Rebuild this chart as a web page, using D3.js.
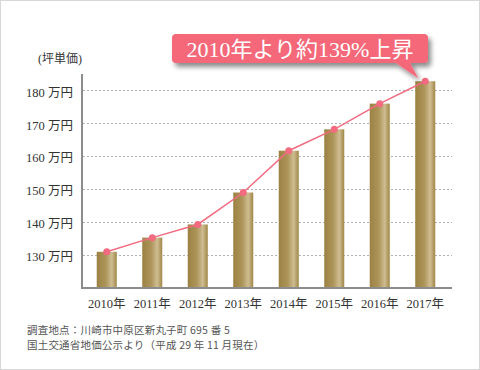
<!DOCTYPE html>
<html>
<head>
<meta charset="utf-8">
<script src="https://cdn.jsdelivr.net/npm/d3@7"></script>
<style>
  html, body { margin: 0; padding: 0; background: #fff; }
  svg { display: block; }
</style>
</head>
<body>
<script>
// データ（画像から読み取った坪単価）
const years = ["2010年", "2011年", "2012年", "2013年", "2014年", "2015年", "2016年", "2017年"];
const prices = [131, 135.3, 139.3, 149, 161.7, 168.2, 176, 182.8];
const yTicks = [130, 140, 150, 160, 170, 180];
const yUnit = "万円";
const yTitle = "(坪単価)";
const calloutText = "2010年より約139%上昇";
const notes = [
  "調査地点：川崎市中原区新丸子町 695 番 5",
  "国土交通省地価公示より（平成 29 年 11 月現在）"
];

const width = 480;
const height = 370;
const serif = "'Liberation Serif', 'DejaVu Serif', 'Noto Sans CJK JP', serif";

const svg = d3.select("body")
  .append("svg")
  .attr("width", width)
  .attr("height", height);

// 外枠
svg.append("rect")
  .attr("x", 0.5).attr("y", 0.5)
  .attr("width", width - 1).attr("height", height - 1)
  .attr("fill", "#fff")
  .attr("stroke", "#d8d8d8");

// グラデーション（棒）
const defs = svg.append("defs");
const grad = defs.append("linearGradient")
  .attr("id", "gold")
  .attr("x1", "0%").attr("x2", "100%").attr("y1", "0%").attr("y2", "0%");
[["0%", "#9b8243"], ["45%", "#ad955a"], ["75%", "#cfbd92"], ["100%", "#a08746"]]
  .forEach(([o, c]) => grad.append("stop").attr("offset", o).attr("stop-color", c));

// 吹き出しの影
const shadow = defs.append("filter").attr("id", "shadow")
  .attr("x", "-20%").attr("y", "-50%").attr("width", "140%").attr("height", "220%");
shadow.append("feDropShadow")
  .attr("dx", 3).attr("dy", 4).attr("stdDeviation", 2.5)
  .attr("flood-color", "#000").attr("flood-opacity", 0.45);

// スケール
const x = d3.scaleBand()
  .domain(years)
  .range([84, 448])
  .paddingInner(0.56)
  .paddingOuter(0.28);

const y = d3.scaleLinear()
  .domain([120, 185])
  .range([288, 74]);

// グリッド線
svg.append("g")
  .selectAll("line")
  .data(yTicks)
  .join("line")
  .attr("x1", 83).attr("x2", 452)
  .attr("y1", (d) => Math.round(y(d)) + 0.5)
  .attr("y2", (d) => Math.round(y(d)) + 0.5)
  .attr("stroke", "#b0b0b0")
  .attr("stroke-dasharray", "2,2");

// Y軸ラベル
const yAxis = d3.axisLeft(y)
  .tickValues(yTicks)
  .tickSize(0)
  .tickPadding(9)
  .tickFormat((d) => `${d} ${yUnit}`);

const gy = svg.append("g")
  .attr("transform", "translate(82,0)")
  .call(yAxis);
gy.select(".domain").remove();
gy.selectAll("text")
  .attr("dy", "0.45em")
  .attr("fill", "#333")
  .style("font-family", serif)
  .style("font-size", "12.5px");

svg.append("text")
  .attr("x", 82).attr("y", 63)
  .attr("text-anchor", "end")
  .attr("fill", "#333")
  .style("font-family", serif)
  .style("font-size", "12px")
  .text(yTitle);

// 棒
svg.append("g")
  .selectAll("rect")
  .data(prices)
  .join("rect")
  .attr("x", (d, i) => x(years[i]))
  .attr("width", x.bandwidth())
  .attr("y", (d) => y(d))
  .attr("height", (d) => y(120) - y(d))
  .attr("fill", "url(#gold)");

// 軸線
svg.append("line")
  .attr("x1", 82).attr("x2", 82)
  .attr("y1", 74).attr("y2", 288)
  .attr("stroke", "#8c8c8c").attr("stroke-width", 2);

const xAxis = d3.axisBottom(x).tickSize(0).tickPadding(11);
const gx = svg.append("g")
  .attr("transform", "translate(0,288)")
  .call(xAxis);
gx.select(".domain").remove();
gx.selectAll("text")
  .attr("fill", "#333")
  .style("font-family", serif)
  .style("font-size", "12.5px");

svg.append("line")
  .attr("x1", 81).attr("x2", 452)
  .attr("y1", 288).attr("y2", 288)
  .attr("stroke", "#8c8c8c").attr("stroke-width", 2);

// 折れ線
const cx = (i) => x(years[i]) + x.bandwidth() / 2;
const line = d3.line()
  .x((d, i) => cx(i))
  .y((d) => y(d));

svg.append("path")
  .datum(prices)
  .attr("d", line)
  .attr("fill", "none")
  .attr("stroke", "#f26b80")
  .attr("stroke-width", 1.5);

svg.append("g")
  .selectAll("circle")
  .data(prices)
  .join("circle")
  .attr("cx", (d, i) => cx(i))
  .attr("cy", (d) => y(d))
  .attr("r", 3.5)
  .attr("fill", "#f26b80");

// 吹き出し
const last = prices.length - 1;
const tipX = cx(last) - 7;
const tipY = y(prices[last]) - 3;
const call = svg.append("g").attr("filter", "url(#shadow)");
call.append("path")
  .attr("d", `M393,61 L${tipX},${tipY} L409,61 Z`)
  .attr("fill", "#f4687a");
call.append("rect")
  .attr("x", 172).attr("y", 34)
  .attr("width", 256).attr("height", 29)
  .attr("rx", 4)
  .attr("fill", "#f4687a");

svg.append("text")
  .attr("x", 300).attr("y", 56.5)
  .attr("text-anchor", "middle")
  .attr("fill", "#fff")
  .style("font-family", serif)
  .style("font-size", "22px")
  .text(calloutText);

// 注記
svg.append("g")
  .selectAll("text")
  .data(notes)
  .join("text")
  .attr("x", 27)
  .attr("y", (d, i) => 334 + i * 15)
  .attr("fill", "#555")
  .style("font-family", "'Noto Sans CJK JP', sans-serif")
  .style("font-size", "10.5px")
  .style("letter-spacing", "0.2px")
  .text((d) => d);
</script>
</body>
</html>
